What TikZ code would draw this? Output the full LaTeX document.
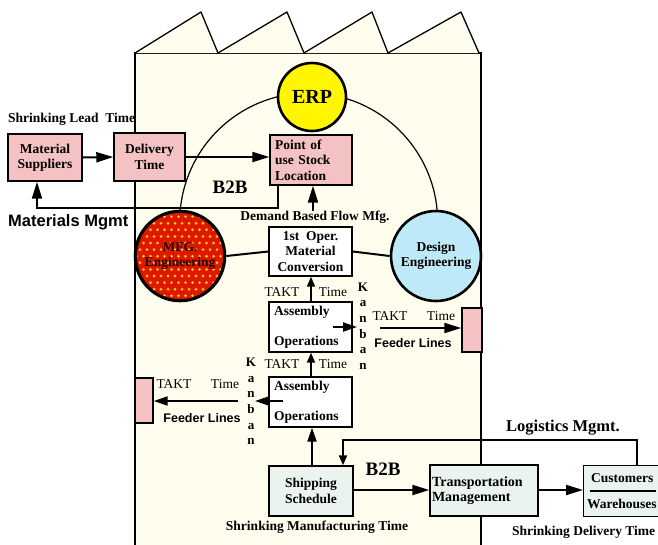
\documentclass[tikz,border=0pt]{standalone}
\usepackage{fontspec}
\setmainfont{Liberation Serif}
\setsansfont{Liberation Sans}
\usetikzlibrary{arrows.meta}
\definecolor{cream}{RGB}{255,253,238}
\definecolor{pinkfill}{RGB}{244,194,194}
\definecolor{greenfill}{RGB}{234,243,237}
\definecolor{bluefill}{RGB}{190,233,248}
\definecolor{mfgred}{RGB}{222,24,0}
\definecolor{dotyellow}{RGB}{255,214,40}
\definecolor{erpyellow}{RGB}{255,246,0}
\begin{document}
\begin{tikzpicture}[x=1pt,y=-1pt,
  boxbase/.style={draw=black, line width=1.4pt, inner ysep=2pt, font=\bfseries\fontsize{13.5}{15.5}\selectfont},
  pinkbox/.style={boxbase, fill=pinkfill, align=center},
  whitebox/.style={boxbase, fill=white, align=center},
  greenbox/.style={boxbase, fill=greenfill, align=center},
  bigcirc/.style={circle, draw=black, line width=2.6pt, inner sep=0pt, minimum size=88pt, align=center, font=\bfseries\fontsize{13.5}{15.5}\selectfont},
  lbl/.style={inner sep=0pt, font=\bfseries\fontsize{13.5}{15.5}\selectfont},
  tlbl/.style={inner sep=0pt, font=\fontsize{13.5}{15.5}\selectfont},
  sanslbl/.style={inner sep=0pt, font=\sffamily\bfseries\fontsize{12.5}{15}\selectfont},
  kanbanlbl/.style={inner sep=0pt, align=center, font=\bfseries\fontsize{13}{15.6}\selectfont},
  bigarr/.style={line width=2pt, -{Triangle[length=17pt,width=10pt]}},
  midarr/.style={line width=2pt, -{Triangle[length=14pt,width=9pt]}},
  smallarr/.style={line width=2pt, -{Triangle[length=10pt,width=8pt]}},
  plainline/.style={line width=2pt},
  thinline/.style={line width=1.2pt}
]
\useasboundingbox (0,0) rectangle (658,544);

% factory building with saw-tooth roof
\draw[line width=1.3pt, fill=cream] (135,560) -- (135,53) -- (481,53) -- (481,560);
\foreach \a/\p/\b in {135/201/218, 218/287/304, 304/372/388, 388/461/479}{
  \draw[line width=1.3pt, fill=cream, line join=round] (\a,53) -- (\p,12) -- (\b,53);
}

% big arc linking MFG, ERP and Design
\draw[thinline] (180,213) arc[start angle=184, end angle=355, radius=129];

% circles
\node[bigcirc, fill=bluefill, minimum size=90pt] (de) at (436,256) {Design\\Engineering};
\node[circle, draw=black, line width=2.6pt, fill=mfgred, minimum size=90pt, inner sep=0pt] (mfg) at (180,256) {};
\begin{scope}
  \clip (180,256) circle[radius=44];
  \foreach \r in {0,...,14}{
    \foreach \c in {0,...,14}{
      \pgfmathsetmacro{\xx}{133+\c*7+mod(\r,2)*3.5}
      \pgfmathsetmacro{\yy}{210+\r*6.6}
      \fill[orange!80!yellow] (\xx,\yy) circle[radius=1.6];
      \fill[dotyellow!60!yellow] (\xx,\yy) circle[radius=0.9];
    }
  }
\end{scope}
\draw[line width=2.6pt] (180,256) circle[radius=44.5];
\node[align=center, inner sep=0pt, font=\bfseries\fontsize{13.5}{15.5}\selectfont, text=black!85!red] (mfgtxt) at (180,256) {MFG.\\Engineering};

\node[circle, draw=black, line width=2.6pt, fill=erpyellow, minimum size=68pt, inner sep=0pt, font=\bfseries\fontsize{20}{22}\selectfont] (erp) at (312,97) {ERP};

% top-left supply chain
\node[lbl, anchor=west] (slt) at (8,119) {Shrinking Lead\ \ Time};
\node[pinkbox, minimum width=74pt, minimum height=47pt] (ms) at (45,157.5) {Material\\Suppliers};
\node[pinkbox, minimum width=71pt, minimum height=48pt] (dt) at (149.5,157) {Delivery\\Time};
\node[boxbase, fill=pinkfill, text width=72pt, inner xsep=5pt, align=left, minimum height=50pt] (pu) at (311,160) {Point of\\use Stock\\Location};
\node[lbl, font=\bfseries\fontsize{19}{21}\selectfont] (b2btop) at (230,187) {B2B};
\node[lbl] (dbf) at (315,217) {Demand Based Flow Mfg.};
\node[inner sep=0pt, anchor=west, font=\sffamily\bfseries\fontsize{16.5}{18}\selectfont] (mm) at (8,222) {Materials Mgmt};

\draw[bigarr] (ms.east) -- (dt.west);
\draw[bigarr] (dt.east) -- (dt.east -| pu.west);
\coordinate (fbA) at (278,208);
\coordinate (fbB) at (37,208);
\draw[bigarr] (pu.south -| fbA) -- (fbA) -- (fbB) -- (fbB |- ms.south);
\draw[bigarr] (dbf.north -| 313,0) -- (pu.south -| 313,0);

% central column
\node[whitebox, minimum width=83pt, minimum height=49pt] (op1) at (310.5,251.5) {1st\ \ Oper.\\Material\\Conversion};
\node[boxbase, fill=white, text width=73pt, inner xsep=5pt, align=left, minimum height=50pt] (as1) at (310.5,327) {Assembly\\[14pt]Operations};
\node[boxbase, fill=white, text width=73pt, inner xsep=5pt, align=left, minimum height=50pt] (as2) at (310.5,402) {Assembly\\[14pt]Operations};
\node[greenbox, minimum width=84pt, minimum height=50pt] (ss) at (311,491) {Shipping\\Schedule};

\draw[plainline] (mfg.east) -- (op1.west);
\draw[plainline] (op1.east) -- (de.west);

\draw[smallarr] (as1.north -| 311,0) -- (op1.south -| 311,0);
\draw[smallarr] (as2.north -| 311,0) -- (as1.south -| 311,0);
\draw[midarr] (ss.north -| 312,0) -- (as2.south -| 312,0);

\node[tlbl] (takt1) at (282,292) {TAKT};
\node[tlbl] (time1) at (333,292) {Time};
\node[tlbl] (takt2) at (282,364) {TAKT};
\node[tlbl] (time2) at (333,364) {Time};

% right feeder
\node[kanbanlbl] (kb1) at (363,326) {K\\a\\n\\b\\a\\n};
\coordinate (kb1a) at (333,327);
\coordinate (kb1b) at (357,327);
\draw[midarr] (kb1a) -- (kb1b);
\node[boxbase, fill=pinkfill, minimum width=20pt, minimum height=44pt, inner sep=0pt] (fr) at (472,330) {};
\coordinate (fra) at (380,328);
\draw[bigarr] (fra) -- (fra -| fr.west);
\node[tlbl] (takt3) at (390,316) {TAKT};
\node[tlbl] (time3) at (441,316) {Time};
\node[sanslbl] (fl1) at (413,343) {Feeder Lines};

% left feeder
\node[kanbanlbl] (kb2) at (251,401.5) {K\\a\\n\\b\\a\\n};
\coordinate (kb2a) at (283,401);
\coordinate (kb2b) at (255,401);
\draw[midarr] (kb2a) -- (kb2b);
\node[boxbase, fill=pinkfill, minimum width=18pt, minimum height=45pt, inner sep=0pt] (fl) at (144,400.5) {};
\coordinate (fla) at (238,401);
\draw[midarr] (fla) -- (fla -| fl.east);
\node[tlbl] (takt4) at (174,384) {TAKT};
\node[tlbl] (time4) at (225,384) {Time};
\node[sanslbl] (fl2) at (202,418) {Feeder Lines};

% bottom logistics chain
\node[boxbase, fill=greenfill, text width=104pt, inner xsep=2pt, align=left, minimum height=51pt, font=\bfseries\fontsize{14}{15.5}\selectfont] (tm) at (484,490.5) {Transportation\\Management};
\node[boxbase, fill=greenfill, minimum width=90pt, minimum height=51pt, anchor=west] (cu) at (583,491) {};
\node[lbl, anchor=west] (cut) at (591,478) {Customers};
\node[lbl, anchor=west] (wh) at (587,504) {Warehouses};
\draw[line width=1.6pt] (590,491) -- (656,491);

\node[lbl, font=\bfseries\fontsize{19}{21}\selectfont] (b2bbot) at (383,469) {B2B};
\node[lbl, font=\bfseries\fontsize{16.5}{18}\selectfont] (lm) at (563,428) {Logistics Mgmt.};
\node[lbl] (smt) at (317,527) {Shrinking Manufacturing Time};
\node[lbl, anchor=west] (sdt) at (512,532) {Shrinking Delivery Time};

\draw[bigarr] (ss.east |- 0,490) -- (tm.west |- 0,490);
\draw[bigarr] (tm.east |- 0,490) -- (cu.west |- 0,490);
\coordinate (lgA) at (637,440);
\coordinate (lgB) at (343,440);
\draw[smallarr] (cu.north -| lgA) -- (lgA) -- (lgB) -- (lgB |- ss.north);
\end{tikzpicture}
\end{document}
